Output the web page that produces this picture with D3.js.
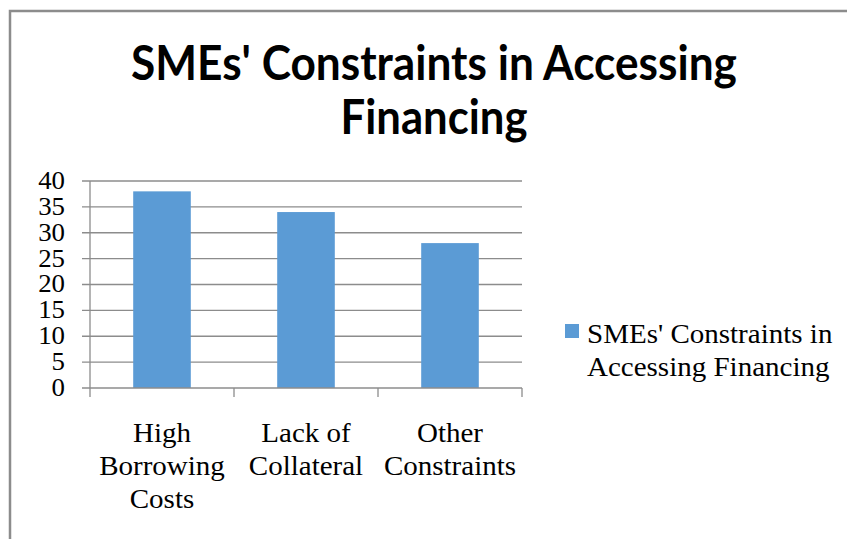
<!DOCTYPE html>
<html>
<head>
<meta charset="utf-8">
<script src="https://cdn.jsdelivr.net/npm/d3@7"></script>
<style>
  html, body { margin: 0; padding: 0; background: #fff; }
  svg { display: block; }
</style>
</head>
<body>
<svg id="chart" width="847" height="539"></svg>
<script>
// Survey results: share of SMEs citing each constraint
const categories = [["High", "Borrowing", "Costs"], ["Lack of", "Collateral"], ["Other", "Constraints"]];
const values = [38, 34, 28];
const seriesName = ["SMEs' Constraints in", "Accessing Financing"];
const titleLines = ["SMEs' Constraints in Accessing", "Financing"];
const yTicks = [0, 5, 10, 15, 20, 25, 30, 35, 40];

const svg = d3.select("#chart");
const barColor = "#5b9bd5";
const lineColor = "#8c8c8c";
const serif = "'Liberation Serif', 'Times New Roman', serif";
const serifStretch = 1.075;

// Horizontal stretch around each text's own anchor point
function stretch(sel, k) {
  sel.each(function () {
    const t = d3.select(this);
    const x = +t.attr("x"), y = +t.attr("y");
    t.attr("transform", `translate(${x},${y}) scale(${k},1) translate(${-x},${-y})`);
  });
}
// Stretch a text element so it spans the given width
function fitWidth(sel, w) {
  sel.each(function () {
    stretch(d3.select(this), w / this.getComputedTextLength());
  });
}

// Outer frame (top and left edges visible)
svg.append("path")
  .attr("d", "M10,539 V11 H847")
  .attr("fill", "none")
  .attr("stroke", lineColor)
  .attr("stroke-width", 2.5);

// Title
const title = svg.append("g");
title.selectAll("text")
  .data(titleLines)
  .join("text")
  .attr("x", 434)
  .attr("y", (d, i) => 80 + i * 54)
  .attr("text-anchor", "middle")
  .attr("font-family", "Lato, 'Open Sans', sans-serif")
  .attr("font-weight", "bold")
  .attr("font-size", 48)
  .attr("fill", "#000")
  .text(d => d);
fitWidth(title.selectAll("text").filter((d, i) => i === 0), 606);
fitWidth(title.selectAll("text").filter((d, i) => i === 1), 187);

// Scales
const x = d3.scaleBand()
  .domain(d3.range(categories.length))
  .range([90, 522])
  .paddingInner(0.6)
  .paddingOuter(0.3);

const y = d3.scaleLinear().domain([0, 40]).range([388, 181]);

// Horizontal gridlines with short ticks left of the axis
svg.append("g")
  .selectAll("line")
  .data(yTicks.filter(v => v > 0))
  .join("line")
  .attr("x1", 82).attr("x2", 522)
  .attr("y1", d => y(d)).attr("y2", d => y(d))
  .attr("stroke", lineColor)
  .attr("stroke-width", 1.3);

// Bars
svg.append("g")
  .selectAll("rect")
  .data(values)
  .join("rect")
  .attr("x", (d, i) => x(i))
  .attr("width", x.bandwidth())
  .attr("y", d => y(d))
  .attr("height", d => y(0) - y(d))
  .attr("fill", barColor);

// Axis lines
svg.append("line")
  .attr("x1", 90).attr("x2", 90)
  .attr("y1", y(40)).attr("y2", 397)
  .attr("stroke", lineColor).attr("stroke-width", 1.3);
svg.append("line")
  .attr("x1", 82).attr("x2", 522)
  .attr("y1", y(0)).attr("y2", y(0))
  .attr("stroke", lineColor).attr("stroke-width", 1.3);

// Category separator ticks on the x axis
const sepX = d3.range(categories.length + 1).map(i => 90 + i * x.step());
svg.append("g")
  .selectAll("line")
  .data(sepX.slice(1))
  .join("line")
  .attr("x1", d => d).attr("x2", d => d)
  .attr("y1", y(0)).attr("y2", 397)
  .attr("stroke", lineColor).attr("stroke-width", 1.3);

// Y tick labels
const yLab = svg.append("g")
  .selectAll("text")
  .data(yTicks)
  .join("text")
  .attr("x", 65)
  .attr("y", d => y(d) + 8)
  .attr("text-anchor", "end")
  .attr("font-family", serif)
  .attr("font-size", 25)
  .attr("fill", "#000")
  .text(d => d);
stretch(yLab, serifStretch);

// Category labels, one line per word group
const catG = svg.append("g")
  .selectAll("g")
  .data(categories)
  .join("g");
const catText = catG.selectAll("text")
  .data((d, i) => d.map(s => ({ s, i })))
  .join("text")
  .attr("x", d => x(d.i) + x.bandwidth() / 2)
  .attr("y", (d, j) => 442 + j * 33)
  .attr("text-anchor", "middle")
  .attr("font-family", serif)
  .attr("font-size", 27)
  .attr("fill", "#000")
  .text(d => d.s);
stretch(catText, serifStretch);

// Legend
svg.append("rect")
  .attr("x", 565).attr("y", 324)
  .attr("width", 14).attr("height", 14)
  .attr("fill", barColor);
const legText = svg.append("g")
  .selectAll("text")
  .data(seriesName)
  .join("text")
  .attr("x", 587)
  .attr("y", (d, i) => 343 + i * 33)
  .attr("font-family", serif)
  .attr("font-size", 27)
  .attr("fill", "#000")
  .text(d => d);
stretch(legText, serifStretch);
</script>
</body>
</html>
